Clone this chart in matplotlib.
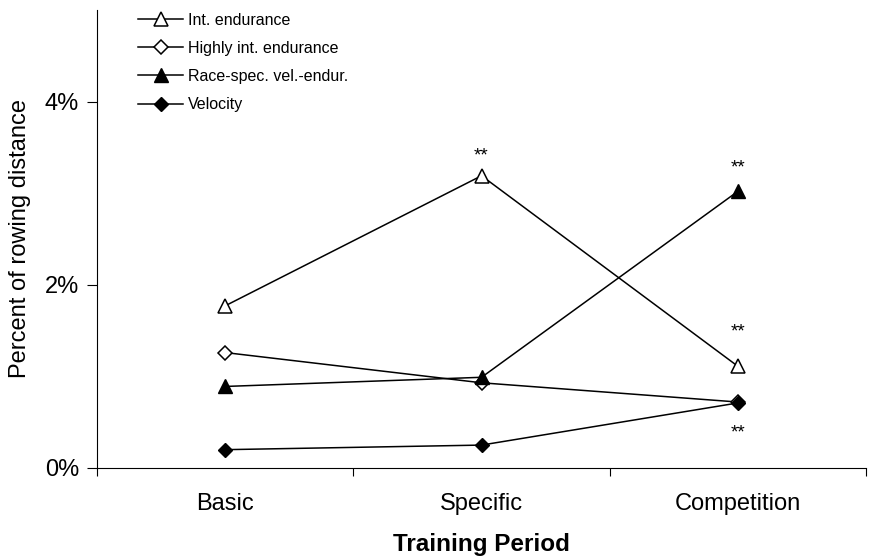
import matplotlib
matplotlib.use("Agg")
import matplotlib.pyplot as plt
from matplotlib.ticker import FuncFormatter

plt.rcParams['font.family'] = ['Liberation Sans', 'DejaVu Sans']

# data (percent of rowing distance)
periods = ['Basic', 'Specific', 'Competition']
int_endurance = [1.77, 3.19, 1.11]
highly_int_endurance = [1.26, 0.93, 0.72]
race_spec = [0.89, 0.99, 3.02]
velocity = [0.20, 0.25, 0.71]

# significance marks: (period index, y value)
star_pos = [(1, 3.41), (2, 3.27), (2, 1.48), (2, 0.38)]

fig = plt.figure(figsize=(8.7, 5.6), dpi=100)
ax = fig.add_axes([0.1115, 0.1643, 0.884, 0.818])

x = [0.5, 1.5, 2.5]
ax.plot(x, int_endurance, color='black', lw=1.1, marker='^', ms=10,
        mfc='white', mec='black', mew=1.1, label='Int. endurance')
ax.plot(x, highly_int_endurance, color='black', lw=1.1, marker='D', ms=7,
        mfc='white', mec='black', mew=1.1, label='Highly int. endurance')
ax.plot(x, race_spec, color='black', lw=1.1, marker='^', ms=10,
        mfc='black', mec='black', label='Race-spec. vel.-endur.')
ax.plot(x, velocity, color='black', lw=1.1, marker='D', ms=7,
        mfc='black', mec='black', label='Velocity')

for i, y in star_pos:
    ax.text(x[i], y, '**', ha='center', va='center', fontsize=13.5)

ax.set_xlim(0, 3)
ax.set_ylim(0, 5)
ax.set_xticks([0, 1, 2, 3])
ax.set_xticklabels([])
ax.set_xticks(x, minor=True)
ax.set_xticklabels(periods, minor=True, fontsize=17)
ax.tick_params(axis='x', which='minor', length=0, pad=18)
ax.tick_params(axis='x', which='major', length=6, direction='out')
ax.set_yticks([0, 2, 4])
ax.yaxis.set_major_formatter(FuncFormatter(lambda v, p: '%d%%' % v))
ax.tick_params(axis='y', labelsize=17, length=7, pad=6, direction='out')

ax.spines['top'].set_visible(False)
ax.spines['right'].set_visible(False)

ax.set_xlabel('Training Period', fontsize=17.5, fontweight='bold', labelpad=13)
ax.set_ylabel('Percent of rowing distance', fontsize=17, labelpad=10)

ax.legend(loc='upper left', bbox_to_anchor=(0.035, 1.025), frameon=False,
          fontsize=11.5, handlelength=2.8, labelspacing=0.82, handletextpad=0.3)

fig.savefig('out.png', dpi=100)
